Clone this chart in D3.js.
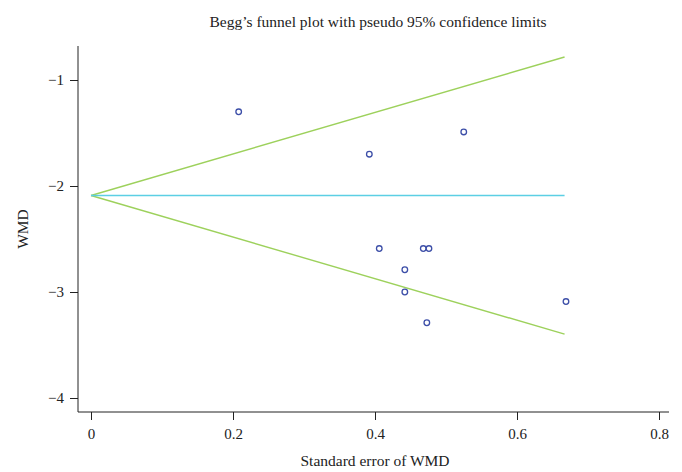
<!DOCTYPE html>
<html>
<head>
<meta charset="utf-8">
<script src="https://cdn.jsdelivr.net/npm/d3@7"></script>
<style>
  body { margin: 0; background: #fff; }
  svg text { font-family: "Liberation Serif", "DejaVu Serif", serif; fill: #222; }
</style>
</head>
<body>
<div id="chart"></div>
<script>
// study data (standard error, WMD)
var se  = [0.208, 0.392, 0.525, 0.406, 0.468, 0.476, 0.442, 0.442, 0.473, 0.669];
var wmd = [-1.30, -1.70, -1.49, -2.59, -2.59, -2.59, -2.79, -3.00, -3.29, -3.09];
var pooled = -2.09;
var maxSe = 0.667;
var xTicks = [0, 0.2, 0.4, 0.6, 0.8];
var yTicks = [-1, -2, -3, -4];

var svg = d3.select('#chart').append('svg').attr('width', 682).attr('height', 472);

var x = d3.scaleLinear().domain([0, 0.8]).range([91, 659]);
var y = d3.scaleLinear().domain([-1, -4]).range([80, 398]);

var pLeft = 78, pRight = 669, pTop = 46, pBottom = 412;

// axes
var gx = svg.append('g').attr('transform', 'translate(0,' + pBottom + ')')
    .call(d3.axisBottom(x).tickValues(xTicks).tickSize(8).tickPadding(8)
        .tickFormat(function(d){ return d === 0 ? '0' : d3.format('.1f')(d); }));
gx.select('.domain').remove();
gx.selectAll('text').style('font-size', '15px');
gx.selectAll('line').attr('stroke', '#222');

var gy = svg.append('g').attr('transform', 'translate(' + pLeft + ',0)')
    .call(d3.axisLeft(y).tickValues(yTicks).tickSize(8).tickPadding(6)
        .tickFormat(function(d){ return '\u2212' + Math.abs(d); }));
gy.select('.domain').remove();
gy.selectAll('text').style('font-size', '15px');
gy.selectAll('line').attr('stroke', '#222');

svg.append('path').attr('fill', 'none').attr('stroke', '#222').attr('stroke-width', 1)
    .attr('d', 'M' + pLeft + ',' + pTop + 'V' + pBottom + 'H' + pRight);

// funnel
var lim = [[0, pooled], [maxSe, pooled + 1.96 * maxSe]];
var lim2 = [[0, pooled], [maxSe, pooled - 1.96 * maxSe]];
var line = d3.line().x(function(d){ return x(d[0]); }).y(function(d){ return y(d[1]); });
svg.append('path').datum(lim).attr('d', line).attr('fill', 'none').attr('stroke', '#9dd15c').attr('stroke-width', 1.4);
svg.append('path').datum(lim2).attr('d', line).attr('fill', 'none').attr('stroke', '#9dd15c').attr('stroke-width', 1.4);
svg.append('path').datum([[0, pooled], [maxSe, pooled]]).attr('d', line).attr('fill', 'none').attr('stroke', '#5ccfe4').attr('stroke-width', 1.4);

// points
svg.selectAll('circle.pt').data(se).enter().append('circle')
    .attr('class', 'pt')
    .attr('cx', function(d){ return x(d); })
    .attr('cy', function(d, i){ return y(wmd[i]); })
    .attr('r', 2.8)
    .attr('fill', 'none')
    .attr('stroke', '#3d4fa8')
    .attr('stroke-width', 1.3);

// titles
svg.append('text').attr('x', 378).attr('y', 27).attr('text-anchor', 'middle')
    .style('font-size', '15.5px').text('Begg\u2019s funnel plot with pseudo 95% confidence limits');
svg.append('text').attr('x', 375).attr('y', 466).attr('text-anchor', 'middle')
    .style('font-size', '15.5px').text('Standard error of WMD');
svg.append('text').attr('transform', 'translate(28,229) rotate(-90)').attr('text-anchor', 'middle')
    .style('font-size', '15.5px').text('WMD');
</script>
</body>
</html>
